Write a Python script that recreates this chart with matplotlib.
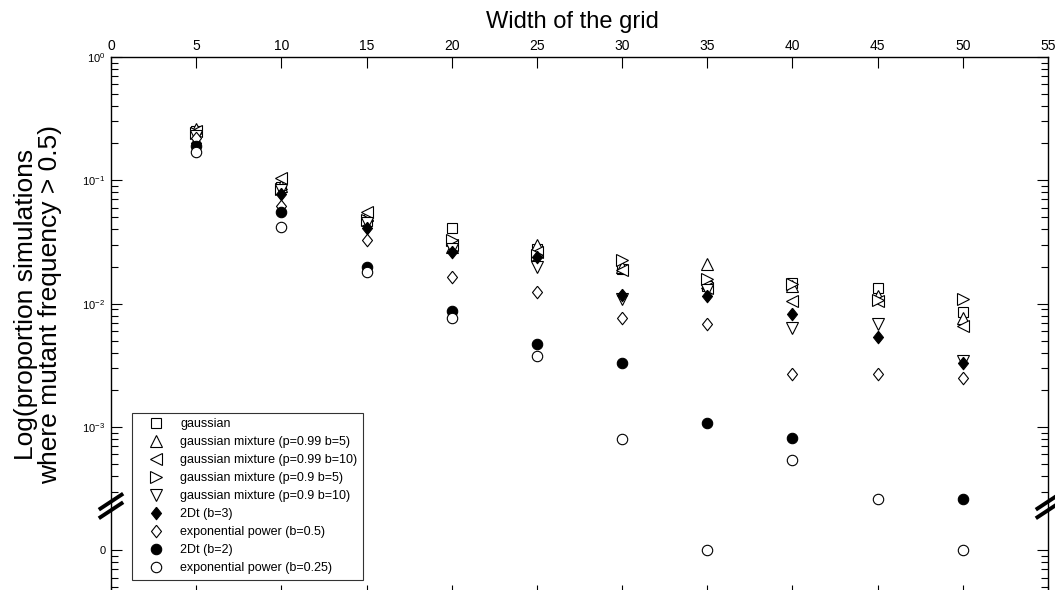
import numpy as np
import matplotlib
matplotlib.use("Agg")
import matplotlib.pyplot as plt

plt.rcParams['font.family'] = ['Liberation Sans', 'DejaVu Sans']
plt.rcParams['mathtext.fontset'] = 'custom'
plt.rcParams['mathtext.rm'] = 'Liberation Sans'
plt.rcParams['mathtext.it'] = 'Liberation Sans'

# grid widths
width = [5, 10, 15, 20, 25, 30, 35, 40, 45, 50]

# proportion of simulations where mutant frequency > 0.5 (0 = none, nan = not shown)
gaussian = [0.25, 0.088, 0.047, 0.041, 0.028, 0.019, 0.014, 0.0148, 0.0133, 0.0085]
gm_099_5 = [0.26, 0.090, 0.052, 0.029, 0.030, 0.020, 0.021, 0.014, 0.0115, 0.0076]
gm_099_10 = [0.25, 0.105, 0.055, 0.030, 0.026, 0.0187, 0.0135, 0.0105, 0.0105, 0.0066]
gm_09_5 = [0.24, 0.085, 0.048, 0.033, 0.025, 0.0224, 0.016, 0.0145, 0.0108, 0.011]
gm_09_10 = [0.23, 0.083, 0.045, 0.028, 0.020, 0.011, 0.013, 0.0063, 0.0069, 0.0034]
t2d_3 = [0.20, 0.078, 0.041, 0.026, 0.024, 0.0118, 0.0115, 0.0082, 0.0054, 0.0033]
exp_05 = [0.22, 0.062, 0.033, 0.0165, 0.0125, 0.0077, 0.0068, 0.0027, 0.0027, 0.0025]
t2d_2 = [0.19, 0.055, 0.020, 0.0088, 0.0047, 0.0033, 0.00108, 0.00081, np.nan, 0.00026]
exp_025 = [0.17, 0.042, 0.018, 0.0077, 0.0038, 0.0008, 0.0, 0.00054, 0.00026, 0.0]

labels = ["gaussian",
          "gaussian mixture (p=0.99 b=5)",
          "gaussian mixture (p=0.99 b=10)",
          "gaussian mixture (p=0.9 b=5)",
          "gaussian mixture (p=0.9 b=10)",
          "2Dt (b=3)",
          "exponential power (b=0.5)",
          "2Dt (b=2)",
          "exponential power (b=0.25)"]

ZERO_POS = -4.0  # where "0" sits below the axis break


def to_pos(vals):
    out = []
    for v in vals:
        if np.isnan(v):
            out.append(np.nan)
        elif v == 0:
            out.append(ZERO_POS)
        else:
            out.append(np.log10(v))
    return np.array(out)


W, H = 1055, 590
fig = plt.figure(figsize=(W / 100, H / 100), dpi=100)
ax = fig.add_axes([111 / W, -6 / H, (1048 - 111) / W, (596 - 57) / H])

diamond = [(0, 1), (0.8, 0), (0, -1), (-0.8, 0), (0, 1)]
series = [gaussian, gm_099_5, gm_099_10, gm_09_5, gm_09_10, t2d_3, exp_05, t2d_2, exp_025]
styles = [("s", "white", 7), ("^", "white", 8), ("<", "white", 8), (">", "white", 8),
          ("v", "white", 8), (diamond, "black", 9), (diamond, "white", 9), ("o", "black", 7.5),
          ("o", "white", 7.5)]

for vals, lab, (mk, fc, ms) in zip(series, labels, styles):
    ax.plot(width, to_pos(vals), linestyle="none", marker=mk, markersize=ms,
            markerfacecolor=fc, markeredgecolor="black", markeredgewidth=0.8, label=lab)

# axes
ax.set_xlim(0, 55)
ax.set_ylim(-4.37, 0)
ax.set_xticks(range(0, 56, 5))
ax.tick_params(axis="x", top=True, bottom=True, labeltop=True, labelbottom=False,
               direction="in", length=8, width=0.8, labelsize=10, pad=3)
ax.xaxis.set_label_position("top")
ax.set_xlabel("Width of the grid", fontsize=17, labelpad=8)
ax.xaxis.label.set_x(0.492)

ax.set_yticks([0, -1, -2, -3, ZERO_POS])
ax.set_yticklabels([r"$10^{0}$", r"$10^{-1}$", r"$10^{-2}$", r"$10^{-3}$", "0"])
minor = []
for d in range(-5, 0):
    for k in range(2, 10):
        p = d + np.log10(k)
        if -4.37 < p < 0 and not (-3.9 < p < -3.6):
            minor.append(p)
ax.set_yticks(minor, minor=True)
ax.tick_params(axis="y", which="both", left=True, right=True, direction="in", labelsize=8, pad=4)
ax.tick_params(axis="y", which="major", length=8, width=0.8)
ax.tick_params(axis="y", which="minor", length=5, width=0.8)

for s in ax.spines.values():
    s.set_linewidth(1.0)

# axis break marks on both spines
brk = -3.64
for xa in (0, 1):
    for off in (-0.035, 0.035):
        ax.plot([xa - 0.013, xa + 0.013], [brk + off - 0.065, brk + off + 0.065],
                transform=ax.get_yaxis_transform(), color="black", lw=2.8,
                clip_on=False, solid_capstyle="butt")

fig.text(38 / W, 1 - 304 / H, "Log(proportion simulations\nwhere mutant frequency > 0.5)",
         rotation=90, ha="center", va="center", multialignment="center", fontsize=19,
         linespacing=1.05)

leg = ax.legend(loc="lower left", bbox_to_anchor=(132 / W, 1 - 580 / H),
                bbox_transform=fig.transFigure, fontsize=9, frameon=True, fancybox=False,
                edgecolor="black", borderpad=0.45, labelspacing=0.48, handlelength=3.0,
                handletextpad=0.4, borderaxespad=0)
leg.get_frame().set_linewidth(0.8)

fig.savefig("out.png", dpi=100)
